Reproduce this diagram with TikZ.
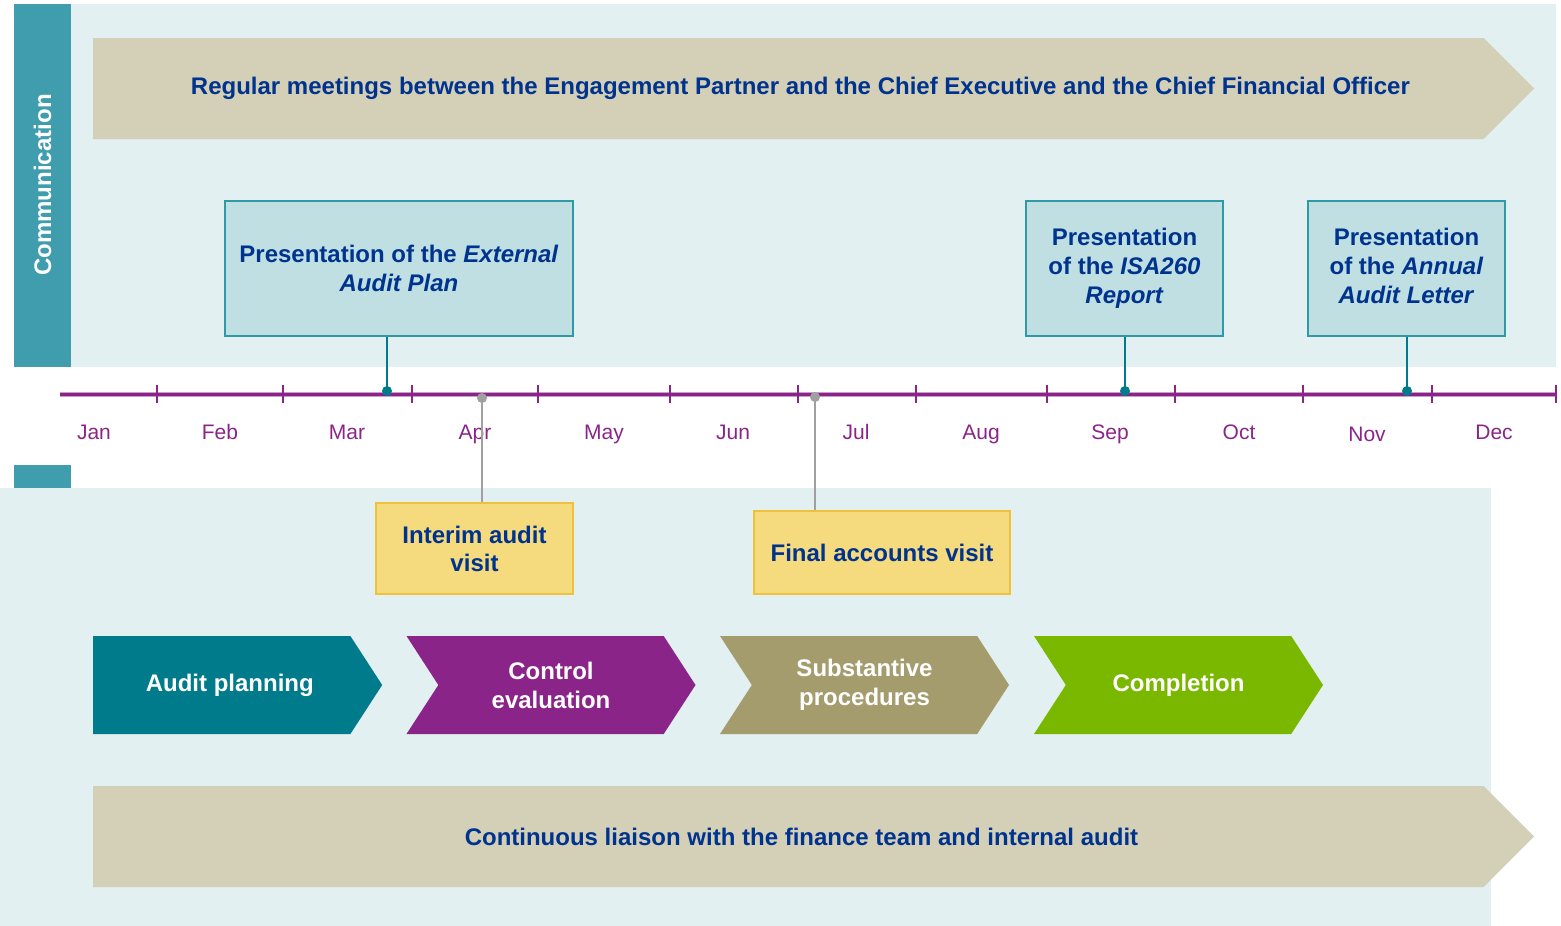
\documentclass[tikz,border=0pt]{standalone}
\usepackage{fontspec}
\setmainfont{Liberation Sans}
\usepackage{xcolor}
\usetikzlibrary{positioning,shapes.symbols}

\definecolor{panelbg}{HTML}{E2F0F1}
\definecolor{sidebar}{HTML}{409DAD}
\definecolor{bannertan}{HTML}{D4CFB7}
\definecolor{navytext}{HTML}{00338D}
\definecolor{boxblue}{HTML}{BFDFE3}
\definecolor{boxedge}{HTML}{2F9AA5}
\definecolor{boxyellow}{HTML}{F5DA7E}
\definecolor{yellowedge}{HTML}{EEC23A}
\definecolor{linepurple}{HTML}{8B2489}
\definecolor{dotteal}{HTML}{007B8C}
\definecolor{dotgrey}{HTML}{A0A0A0}
\definecolor{stepteal}{HTML}{007B8C}
\definecolor{steppurple}{HTML}{8B2489}
\definecolor{stepolive}{HTML}{A59C6E}
\definecolor{stepgreen}{HTML}{7AB800}

\begin{document}
\begin{tikzpicture}[
            x=1pt, y=-1pt,
            banner/.style={signal, signal to=east, signal pointer angle=90, fill=bannertan,
                minimum width=1441pt, minimum height=101pt, inner sep=0pt, anchor=west,
                text=navytext, font=\bfseries\fontsize{24}{28}\selectfont},
            chevron/.style={signal, signal to=east, signal from=west, signal pointer angle=114,
                minimum width=289pt, minimum height=98pt, inner sep=0pt, align=center,
                text=white, font=\bfseries\fontsize{24}{29}\selectfont},
            bluebox/.style={rectangle, draw=boxedge, line width=1.2pt, fill=boxblue, inner sep=0pt,
                align=center, text=navytext, font=\bfseries\fontsize{24}{29}\selectfont},
            yellowbox/.style={rectangle, draw=yellowedge, line width=1.2pt, fill=boxyellow, inner sep=0pt,
                align=center, text=navytext, font=\bfseries\fontsize{24}{28}\selectfont},
            month/.style={anchor=base, text=linepurple, font=\fontsize{21}{24}\selectfont},
            tdot/.style={circle, fill=dotteal, inner sep=0pt, minimum size=10pt},
            gdot/.style={circle, fill=dotgrey, inner sep=0pt, minimum size=10pt}
        ]
            \useasboundingbox (0,0) rectangle (1561,926);
            % Panels
            \fill[panelbg] (71,4) rectangle (1556,367);
            \fill[sidebar] (14,4) rectangle (71,367);
            \fill[panelbg] (0,488) rectangle (1491,926);
            \fill[sidebar] (14,465) rectangle (71,488);
            \node[rotate=90, text=white, font=\bfseries\fontsize{24}{28}\selectfont] (comm) at (42.5,185) {Communication};

            % Banners
            \node[banner] (meetings) at (93,88.5)
                {\hspace*{24pt}Regular meetings between the Engagement Partner and the Chief Executive and the Chief Financial Officer};
            \node[banner] (liaison) at (93,836.5)
                {\hspace*{26pt}Continuous liaison with the finance team and internal audit};

            % Timeline
            \draw[linepurple!45, line width=5pt] (60,394) -- (1556,394);
            \draw[linepurple, line width=3pt] (60,394) -- (1556,394);
            \foreach \x in {157,283,412,538,670,798,916,1047,1175,1303,1432,1556}
                \draw[linepurple, line width=2pt] (\x,385) -- (\x,403);
            \foreach \m/\x in {Jan/94,Feb/220,Mar/347,Apr/475,May/604,Jun/733,Jul/856,Aug/981,Sep/1110,Oct/1239,Dec/1494}
                \node[month] (m-\m) at (\x,439.5) {\m};
            \node[month] (m-Nov) at (1367,441.5) {Nov};

            % Presentations
            \node[bluebox, minimum width=348pt, minimum height=135pt] (plan) at (399,268.5)
                {Presentation of the \textit{External}\\\textit{Audit Plan}};
            \node[bluebox, minimum width=197pt, minimum height=135pt] (report) at (1124.5,268.5)
                {\strut Presentation\\\strut of the \textit{ISA260}\\\strut\textit{Report}};
            \node[bluebox, minimum width=197pt, minimum height=135pt] (letter) at (1406.5,268.5)
                {\strut Presentation\\\strut of the \textit{Annual}\\\strut\textit{Audit Letter}};
            \node[tdot] (d-plan) at (387,391) {};
            \node[tdot] (d-report) at (1125,391) {};
            \node[tdot] (d-letter) at (1407,391) {};
            \draw[dotteal, line width=2pt] (plan.south -| d-plan) -- (d-plan.center);
            \draw[dotteal, line width=2pt] (report.south -| d-report) -- (d-report.center);
            \draw[dotteal, line width=2pt] (letter.south -| d-letter) -- (d-letter.center);

            % Visits
            \node[yellowbox, minimum width=197pt, minimum height=91pt] (interim) at (474.5,548.5)
                {Interim audit\\visit};
            \node[yellowbox, minimum width=256pt, minimum height=83pt] (final) at (882,552.5)
                {Final accounts visit};
            \node[gdot] (d-interim) at (482,398) {};
            \node[gdot] (d-final) at (815,397) {};
            \draw[dotgrey, line width=2pt] (d-interim.center) -- (interim.north -| d-interim);
            \draw[dotgrey, line width=2pt] (d-final.center) -- (final.north -| d-final);

            % Audit stages
            \node[chevron, fill=stepteal, signal from=nowhere, anchor=west] (planning) at (93,685) {\hspace*{16pt}Audit planning};
            \node[chevron, fill=steppurple] (control) at (551,685) {Control\\evaluation};
            \node[chevron, fill=stepolive] (substantive) at (864.5,685) {Substantive\\procedures};
            \node[chevron, fill=stepgreen] (completion) at (1178.5,685) {Completion};
        \end{tikzpicture}
\end{document}
